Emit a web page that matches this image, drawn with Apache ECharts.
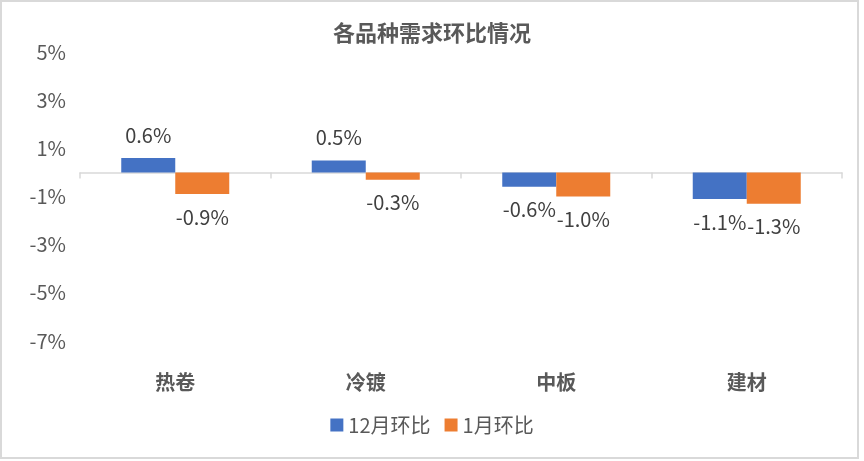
<!DOCTYPE html>
<html><head><meta charset="utf-8">
<script src="https://cdn.jsdelivr.net/npm/echarts@6/dist/echarts.min.js"></script>
<style>html,body{margin:0;padding:0;background:#fff}#c{width:864px;height:461px}</style>
</head><body><div id="c"></div>
<script>
const categories = ['热卷', '冷镀', '中板', '建材'];
const dec = [0.6, 0.5, -0.6, -1.1];
const jan = [-0.9, -0.3, -1.0, -1.3];
const seriesNames = ['12月环比', '1月环比'];
const yTicks = [-7, -5, -3, -1, 1, 3, 5];

const FONT = '"Noto Sans CJK SC", "Noto Sans", sans-serif';
const chart = echarts.init(document.getElementById('c'), null, {renderer: 'canvas'});
const labelCfg = (pos) => ({
  show: true, position: pos, distance: 13,
  formatter: p => p.value.toFixed(1) + '%',
  fontFamily: FONT, fontSize: 20, color: '#404040'
});
chart.setOption({
  animation: false,
  textStyle: {fontFamily: FONT},
  title: {
    text: '各品种需求环比情况', left: 'center', top: 17,
    textStyle: {fontFamily: FONT, fontSize: 22, fontWeight: 'bold', color: '#595959'}
  },
  graphic: [{
    type: 'rect', silent: true,
    shape: {x: 1, y: 1, width: 857, height: 457},
    style: {fill: 'none', stroke: '#d9d9d9', lineWidth: 2}
  }],
  legend: {
    bottom: 21, left: 'center', itemWidth: 13, itemHeight: 13, itemGap: 14,
    icon: 'rect',
    textStyle: {fontFamily: FONT, fontSize: 20, color: '#595959'},
    data: seriesNames
  },
  grid: {left: 80, right: 22, top: 52, bottom: 120},
  xAxis: [{
    type: 'category', data: categories, position: 'bottom',
    axisLine: {show: false, onZero: false}, axisTick: {show: false},
    axisLabel: {fontFamily: FONT, fontSize: 20, fontWeight: 'bold', color: '#595959', margin: 31}
  }, {
    type: 'category', data: categories, position: 'bottom',
    axisLine: {show: true, onZero: true, lineStyle: {color: '#d9d9d9', width: 1.5}},
    axisTick: {show: true, length: 6, lineStyle: {color: '#d9d9d9', width: 1.5}},
    axisLabel: {show: false}
  }],
  yAxis: {
    type: 'value', min: -7, max: 5, interval: 1,
    axisLine: {show: false}, axisTick: {show: false}, splitLine: {show: false},
    axisLabel: {
      fontFamily: FONT, fontSize: 20, color: '#595959', margin: 14,
      formatter: v => yTicks.includes(v) ? v + '%' : ''
    }
  },
  series: [{
    name: seriesNames[0], type: 'bar', barWidth: 54, barGap: '0%',
    data: dec.map(v => ({value: v, label: {position: v < 0 ? 'bottom' : 'top'}})),
    itemStyle: {color: '#4472C4'},
    label: labelCfg('top')
  }, {
    name: seriesNames[1], type: 'bar', data: jan, barWidth: 54, barGap: '0%',
    itemStyle: {color: '#ED7D31'},
    label: labelCfg('bottom')
  }]
});
</script></body></html>
